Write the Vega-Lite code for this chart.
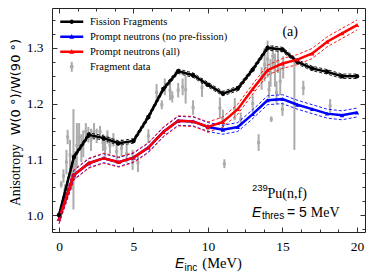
{
  "$schema": "https://vega.github.io/schema/vega-lite/v6.json",
  "width": 313,
  "height": 224,
  "autosize": "none",
  "padding": {"left": 52, "top": 8, "right": 9, "bottom": 48},
  "background": "white",
  "config": {
    "view": {"stroke": "#222", "strokeWidth": 1},
    "font": "Liberation Serif, Times New Roman, serif",
    "axis": {"labelFont": "Liberation Serif, Times New Roman, serif"},
    "legend": {"labelFont": "Liberation Serif, Times New Roman, serif"}
  },
  "datasets": {
    "curves": [
      {"s":"Fission Fragments","E":0,"A":1.000,"lo":0.996,"hi":1.004},
      {"s":"Fission Fragments","E":1,"A":1.104,"lo":1.100,"hi":1.108},
      {"s":"Fission Fragments","E":2,"A":1.144,"lo":1.140,"hi":1.148},
      {"s":"Fission Fragments","E":3,"A":1.138,"lo":1.134,"hi":1.142},
      {"s":"Fission Fragments","E":4,"A":1.129,"lo":1.125,"hi":1.133},
      {"s":"Fission Fragments","E":5,"A":1.133,"lo":1.129,"hi":1.137},
      {"s":"Fission Fragments","E":6,"A":1.176,"lo":1.172,"hi":1.180},
      {"s":"Fission Fragments","E":7,"A":1.226,"lo":1.222,"hi":1.230},
      {"s":"Fission Fragments","E":8,"A":1.258,"lo":1.254,"hi":1.262},
      {"s":"Fission Fragments","E":9,"A":1.251,"lo":1.247,"hi":1.255},
      {"s":"Fission Fragments","E":10,"A":1.234,"lo":1.230,"hi":1.238},
      {"s":"Fission Fragments","E":11,"A":1.218,"lo":1.214,"hi":1.222},
      {"s":"Fission Fragments","E":12,"A":1.227,"lo":1.223,"hi":1.231},
      {"s":"Fission Fragments","E":13,"A":1.261,"lo":1.257,"hi":1.265},
      {"s":"Fission Fragments","E":14,"A":1.300,"lo":1.296,"hi":1.304},
      {"s":"Fission Fragments","E":15,"A":1.297,"lo":1.293,"hi":1.301},
      {"s":"Fission Fragments","E":16,"A":1.275,"lo":1.271,"hi":1.279},
      {"s":"Fission Fragments","E":17,"A":1.263,"lo":1.259,"hi":1.267},
      {"s":"Fission Fragments","E":18,"A":1.257,"lo":1.253,"hi":1.261},
      {"s":"Fission Fragments","E":19,"A":1.249,"lo":1.245,"hi":1.253},
      {"s":"Fission Fragments","E":20,"A":1.249,"lo":1.245,"hi":1.253},
      {"s":"Prompt neutrons (no pre-fission)","E":0,"A":0.993,"lo":0.985,"hi":1.001},
      {"s":"Prompt neutrons (no pre-fission)","E":1,"A":1.072,"lo":1.064,"hi":1.080},
      {"s":"Prompt neutrons (no pre-fission)","E":2,"A":1.093,"lo":1.085,"hi":1.101},
      {"s":"Prompt neutrons (no pre-fission)","E":3,"A":1.102,"lo":1.094,"hi":1.110},
      {"s":"Prompt neutrons (no pre-fission)","E":4,"A":1.095,"lo":1.087,"hi":1.103},
      {"s":"Prompt neutrons (no pre-fission)","E":5,"A":1.103,"lo":1.095,"hi":1.111},
      {"s":"Prompt neutrons (no pre-fission)","E":6,"A":1.121,"lo":1.113,"hi":1.129},
      {"s":"Prompt neutrons (no pre-fission)","E":7,"A":1.149,"lo":1.141,"hi":1.157},
      {"s":"Prompt neutrons (no pre-fission)","E":8,"A":1.169,"lo":1.161,"hi":1.177},
      {"s":"Prompt neutrons (no pre-fission)","E":9,"A":1.168,"lo":1.160,"hi":1.176},
      {"s":"Prompt neutrons (no pre-fission)","E":10,"A":1.158,"lo":1.150,"hi":1.166},
      {"s":"Prompt neutrons (no pre-fission)","E":11,"A":1.153,"lo":1.145,"hi":1.161},
      {"s":"Prompt neutrons (no pre-fission)","E":12,"A":1.158,"lo":1.150,"hi":1.166},
      {"s":"Prompt neutrons (no pre-fission)","E":13,"A":1.181,"lo":1.173,"hi":1.189},
      {"s":"Prompt neutrons (no pre-fission)","E":14,"A":1.206,"lo":1.198,"hi":1.214},
      {"s":"Prompt neutrons (no pre-fission)","E":15,"A":1.208,"lo":1.200,"hi":1.216},
      {"s":"Prompt neutrons (no pre-fission)","E":16,"A":1.198,"lo":1.190,"hi":1.206},
      {"s":"Prompt neutrons (no pre-fission)","E":17,"A":1.190,"lo":1.182,"hi":1.198},
      {"s":"Prompt neutrons (no pre-fission)","E":18,"A":1.182,"lo":1.174,"hi":1.190},
      {"s":"Prompt neutrons (no pre-fission)","E":19,"A":1.179,"lo":1.171,"hi":1.187},
      {"s":"Prompt neutrons (no pre-fission)","E":20,"A":1.184,"lo":1.176,"hi":1.192},
      {"s":"Prompt neutrons (all)","E":0,"A":0.993,"lo":0.984,"hi":1.002},
      {"s":"Prompt neutrons (all)","E":1,"A":1.072,"lo":1.063,"hi":1.081},
      {"s":"Prompt neutrons (all)","E":2,"A":1.093,"lo":1.084,"hi":1.102},
      {"s":"Prompt neutrons (all)","E":3,"A":1.102,"lo":1.093,"hi":1.111},
      {"s":"Prompt neutrons (all)","E":4,"A":1.095,"lo":1.086,"hi":1.104},
      {"s":"Prompt neutrons (all)","E":5,"A":1.103,"lo":1.094,"hi":1.112},
      {"s":"Prompt neutrons (all)","E":6,"A":1.121,"lo":1.112,"hi":1.130},
      {"s":"Prompt neutrons (all)","E":7,"A":1.149,"lo":1.140,"hi":1.158},
      {"s":"Prompt neutrons (all)","E":8,"A":1.169,"lo":1.160,"hi":1.178},
      {"s":"Prompt neutrons (all)","E":9,"A":1.168,"lo":1.159,"hi":1.177},
      {"s":"Prompt neutrons (all)","E":10,"A":1.158,"lo":1.149,"hi":1.167},
      {"s":"Prompt neutrons (all)","E":11,"A":1.167,"lo":1.158,"hi":1.176},
      {"s":"Prompt neutrons (all)","E":12,"A":1.190,"lo":1.181,"hi":1.199},
      {"s":"Prompt neutrons (all)","E":13,"A":1.226,"lo":1.217,"hi":1.235},
      {"s":"Prompt neutrons (all)","E":14,"A":1.260,"lo":1.251,"hi":1.269},
      {"s":"Prompt neutrons (all)","E":15,"A":1.272,"lo":1.263,"hi":1.281},
      {"s":"Prompt neutrons (all)","E":16,"A":1.279,"lo":1.270,"hi":1.288},
      {"s":"Prompt neutrons (all)","E":17,"A":1.290,"lo":1.281,"hi":1.299},
      {"s":"Prompt neutrons (all)","E":18,"A":1.311,"lo":1.302,"hi":1.320},
      {"s":"Prompt neutrons (all)","E":19,"A":1.326,"lo":1.317,"hi":1.335},
      {"s":"Prompt neutrons (all)","E":20,"A":1.341,"lo":1.332,"hi":1.350}
    ],
    "frag": [
      {"s":"Fragment data","E":0.15,"A":1.055,"lo":1.049,"hi":1.061},
      {"s":"Fragment data","E":0.3,"A":1.07,"lo":1.058,"hi":1.082},
      {"s":"Fragment data","E":0.4,"A":1.045,"lo":1.035,"hi":1.055},
      {"s":"Fragment data","E":0.5,"A":1.095,"lo":1.073,"hi":1.117},
      {"s":"Fragment data","E":0.58,"A":1.14,"lo":1.127,"hi":1.153},
      {"s":"Fragment data","E":0.74,"A":1.108,"lo":1.081,"hi":1.135},
      {"s":"Fragment data","E":0.85,"A":1.07,"lo":1.045,"hi":1.095},
      {"s":"Fragment data","E":0.97,"A":1.10,"lo":1.01,"hi":1.19},
      {"s":"Fragment data","E":1.1,"A":1.09,"lo":1.065,"hi":1.115},
      {"s":"Fragment data","E":1.2,"A":1.125,"lo":1.085,"hi":1.165},
      {"s":"Fragment data","E":1.35,"A":1.14,"lo":1.115,"hi":1.165},
      {"s":"Fragment data","E":1.5,"A":1.12,"lo":1.095,"hi":1.145},
      {"s":"Fragment data","E":1.63,"A":1.128,"lo":1.104,"hi":1.152},
      {"s":"Fragment data","E":1.8,"A":1.15,"lo":1.135,"hi":1.165},
      {"s":"Fragment data","E":1.97,"A":1.144,"lo":1.13,"hi":1.158},
      {"s":"Fragment data","E":2.15,"A":1.135,"lo":1.115,"hi":1.155},
      {"s":"Fragment data","E":2.35,"A":1.15,"lo":1.135,"hi":1.165},
      {"s":"Fragment data","E":2.53,"A":1.142,"lo":1.129,"hi":1.155},
      {"s":"Fragment data","E":2.75,"A":1.15,"lo":1.14,"hi":1.16},
      {"s":"Fragment data","E":2.95,"A":1.13,"lo":1.115,"hi":1.145},
      {"s":"Fragment data","E":3.09,"A":1.12,"lo":1.104,"hi":1.136},
      {"s":"Fragment data","E":3.25,"A":1.14,"lo":1.128,"hi":1.152},
      {"s":"Fragment data","E":3.42,"A":1.125,"lo":1.11,"hi":1.14},
      {"s":"Fragment data","E":3.65,"A":1.135,"lo":1.123,"hi":1.147},
      {"s":"Fragment data","E":3.87,"A":1.114,"lo":1.093,"hi":1.135},
      {"s":"Fragment data","E":4.2,"A":1.12,"lo":1.104,"hi":1.136},
      {"s":"Fragment data","E":4.54,"A":1.11,"lo":1.094,"hi":1.126},
      {"s":"Fragment data","E":4.94,"A":1.099,"lo":1.081,"hi":1.117},
      {"s":"Fragment data","E":5.3,"A":1.094,"lo":1.077,"hi":1.111},
      {"s":"Fragment data","E":6.0,"A":1.142,"lo":1.13,"hi":1.154},
      {"s":"Fragment data","E":6.55,"A":1.22,"lo":1.205,"hi":1.235},
      {"s":"Fragment data","E":6.9,"A":1.198,"lo":1.19,"hi":1.206},
      {"s":"Fragment data","E":7.1,"A":1.23,"lo":1.215,"hi":1.245},
      {"s":"Fragment data","E":7.45,"A":1.224,"lo":1.206,"hi":1.242},
      {"s":"Fragment data","E":7.6,"A":1.212,"lo":1.202,"hi":1.222},
      {"s":"Fragment data","E":8.0,"A":1.224,"lo":1.211,"hi":1.237},
      {"s":"Fragment data","E":8.3,"A":1.23,"lo":1.215,"hi":1.245},
      {"s":"Fragment data","E":8.5,"A":1.225,"lo":1.2,"hi":1.25},
      {"s":"Fragment data","E":9.0,"A":1.193,"lo":1.18,"hi":1.206},
      {"s":"Fragment data","E":9.6,"A":1.229,"lo":1.212,"hi":1.246},
      {"s":"Fragment data","E":10.0,"A":1.155,"lo":1.147,"hi":1.163},
      {"s":"Fragment data","E":10.8,"A":1.192,"lo":1.173,"hi":1.211},
      {"s":"Fragment data","E":11.0,"A":1.171,"lo":1.153,"hi":1.189},
      {"s":"Fragment data","E":11.1,"A":1.092,"lo":1.084,"hi":1.1},
      {"s":"Fragment data","E":11.8,"A":1.19,"lo":1.17,"hi":1.21},
      {"s":"Fragment data","E":12.2,"A":1.172,"lo":1.16,"hi":1.184},
      {"s":"Fragment data","E":13.0,"A":1.2,"lo":1.185,"hi":1.215},
      {"s":"Fragment data","E":13.4,"A":1.13,"lo":1.115,"hi":1.145},
      {"s":"Fragment data","E":13.6,"A":1.245,"lo":1.225,"hi":1.265},
      {"s":"Fragment data","E":13.8,"A":1.27,"lo":1.24,"hi":1.3},
      {"s":"Fragment data","E":14.0,"A":1.28,"lo":1.247,"hi":1.313},
      {"s":"Fragment data","E":14.1,"A":1.225,"lo":1.21,"hi":1.24},
      {"s":"Fragment data","E":14.2,"A":1.255,"lo":1.23,"hi":1.28},
      {"s":"Fragment data","E":14.25,"A":1.172,"lo":1.167,"hi":1.177},
      {"s":"Fragment data","E":14.35,"A":1.285,"lo":1.265,"hi":1.305},
      {"s":"Fragment data","E":14.5,"A":1.26,"lo":1.23,"hi":1.29},
      {"s":"Fragment data","E":14.6,"A":1.22,"lo":1.2,"hi":1.24},
      {"s":"Fragment data","E":14.7,"A":1.275,"lo":1.255,"hi":1.295},
      {"s":"Fragment data","E":14.85,"A":1.24,"lo":1.215,"hi":1.265},
      {"s":"Fragment data","E":15.0,"A":1.19,"lo":1.178,"hi":1.202},
      {"s":"Fragment data","E":15.05,"A":1.265,"lo":1.245,"hi":1.285},
      {"s":"Fragment data","E":15.8,"A":1.2,"lo":1.117,"hi":1.283},
      {"s":"Fragment data","E":16.4,"A":1.228,"lo":1.215,"hi":1.241},
      {"s":"Fragment data","E":18.2,"A":1.196,"lo":1.184,"hi":1.208}
    ],
    "one": [{}]
  },
  "resolve": {"axis": {"x": "independent", "y": "independent"}},
  "layer": [
    {
      "data": {"name": "frag"},
      "mark": {"type": "rule", "strokeWidth": 2},
      "encoding": {
        "x": {"field": "E", "type": "quantitative",
          "scale": {"domain": [-0.47, 20.54], "nice": false, "zero": false},
          "axis": {"orient": "bottom", "values": [0,1.25,2.5,3.75,5,6.25,7.5,8.75,10,11.25,12.5,13.75,15,16.25,17.5,18.75,20],
            "labelExpr": "datum.value % 5 == 0 ? format(datum.value, 'd') : ''",
            "tickSize": {"condition": {"test": "datum.value % 5 == 0", "value": -5}, "value": -3},
            "labelPadding": 12, "labelOverlap": false, "labelBound": false, "labelFlush": false,
            "domain": false, "grid": false, "title": null,
            "labelFont": "Liberation Serif, Times New Roman, serif", "labelFontSize": 13.5, "labelColor": "black",
            "tickColor": "#333", "tickWidth": 1}},
        "y": {"field": "lo", "type": "quantitative",
          "scale": {"domain": [0.9695, 1.3716], "nice": false, "zero": false},
          "axis": {"orient": "left", "values": [0.975,1,1.025,1.05,1.075,1.1,1.125,1.15,1.175,1.2,1.225,1.25,1.275,1.3,1.325,1.35],
            "labelExpr": "abs(datum.value*10 - round(datum.value*10)) < 0.001 ? format(datum.value, '.1f') : ''",
            "tickSize": {"condition": {"test": "abs(datum.value*10 - round(datum.value*10)) < 0.001", "value": -5}, "value": -3},
            "labelPadding": 14, "labelOverlap": false, "labelBound": false, "labelFlush": false,
            "domain": false, "grid": false, "title": null,
            "labelFont": "Liberation Serif, Times New Roman, serif", "labelFontSize": 13.5, "labelColor": "black",
            "tickColor": "#333", "tickWidth": 1}},
        "y2": {"field": "hi"},
        "color": {"field": "s", "type": "nominal",
          "scale": {"domain": ["Fission Fragments", "Prompt neutrons (no pre-fission)", "Prompt neutrons (all)", "Fragment data"],
                    "range": ["#000000", "#0000ff", "#ff0000", "#ababab"]},
          "legend": {"orient": "none", "legendX": 14.5, "legendY": 8.5, "title": null, "padding": 0,
            "labelFont": "Liberation Serif, Times New Roman, serif", "labelFontSize": 10.5, "labelColor": "black",
            "symbolSize": 100, "labelOffset": 13, "rowPadding": 4,
            "encode": {"symbols": {"update": {
              "shape": {"signal": "datum.value === 'Fission Fragments' ? 'M-2.3,-0.25H2.3V0.25H-2.3ZM0.44,0A0.44,0.44 0 1,1 -0.44,0A0.44,0.44 0 1,1 0.44,0Z' : datum.value === 'Fragment data' ? 'M-2.3,-1H-2.3M2.3,1H2.3M-0.2,-1H0.2V1H-0.2ZM-0.35,-0.3H0.35V0.3H-0.35Z' : 'M-2.3,-0.25H2.3V0.25H-2.3ZM0,-0.55L0.5,0.4L-0.5,0.4Z'"},
              "fill": {"scale": "color", "field": "value"},
              "stroke": {"value": "transparent"},
              "strokeWidth": {"value": 0},
              "opacity": {"value": 1}}}}}}
      }
    },
    {
      "data": {"name": "frag"},
      "mark": {"type": "point", "shape": "square", "filled": true, "size": 9, "opacity": 1},
      "encoding": {
        "x": {"field": "E", "type": "quantitative", "scale": {"domain": [-0.47, 20.54], "nice": false, "zero": false}, "axis": null},
        "y": {"field": "A", "type": "quantitative", "scale": {"domain": [0.9695, 1.3716], "nice": false, "zero": false}, "axis": null},
        "color": {"field": "s", "type": "nominal"}
      }
    },
    {
      "data": {"name": "curves"},
      "mark": {"type": "line", "strokeWidth": 0.9, "strokeDash": [3, 2]},
      "encoding": {
        "x": {"field": "E", "type": "quantitative",
          "scale": {"domain": [-0.47, 20.54], "nice": false, "zero": false},
          "axis": {"orient": "top", "values": [0,1.25,2.5,3.75,5,6.25,7.5,8.75,10,11.25,12.5,13.75,15,16.25,17.5,18.75,20],
            "labels": false,
            "tickSize": {"condition": {"test": "datum.value % 5 == 0", "value": -5}, "value": -3},
            "domain": false, "grid": false, "title": null, "tickColor": "#333", "tickWidth": 1}},
        "y": {"field": "lo", "type": "quantitative",
          "scale": {"domain": [0.9695, 1.3716], "nice": false, "zero": false},
          "axis": {"orient": "right", "values": [0.975,1,1.025,1.05,1.075,1.1,1.125,1.15,1.175,1.2,1.225,1.25,1.275,1.3,1.325,1.35],
            "labels": false,
            "tickSize": {"condition": {"test": "abs(datum.value*10 - round(datum.value*10)) < 0.001", "value": -5}, "value": -3},
            "domain": false, "grid": false, "title": null, "tickColor": "#333", "tickWidth": 1}},
        "color": {"field": "s", "type": "nominal"}
      }
    },
    {
      "data": {"name": "curves"},
      "mark": {"type": "line", "strokeWidth": 0.9, "strokeDash": [3, 2]},
      "encoding": {
        "x": {"field": "E", "type": "quantitative", "scale": {"domain": [-0.47, 20.54], "nice": false, "zero": false}, "axis": null},
        "y": {"field": "hi", "type": "quantitative", "scale": {"domain": [0.9695, 1.3716], "nice": false, "zero": false}, "axis": null},
        "color": {"field": "s", "type": "nominal"}
      }
    },
    {
      "data": {"name": "curves"},
      "mark": {"type": "line", "strokeWidth": 2.5},
      "encoding": {
        "x": {"field": "E", "type": "quantitative", "scale": {"domain": [-0.47, 20.54], "nice": false, "zero": false}, "axis": null},
        "y": {"field": "A", "type": "quantitative", "scale": {"domain": [0.9695, 1.3716], "nice": false, "zero": false}, "axis": null},
        "color": {"field": "s", "type": "nominal"}
      }
    },
    {
      "data": {"name": "curves"},
      "mark": {"type": "point", "filled": true, "size": 20, "opacity": 1},
      "encoding": {
        "x": {"field": "E", "type": "quantitative", "scale": {"domain": [-0.47, 20.54], "nice": false, "zero": false}, "axis": null},
        "y": {"field": "A", "type": "quantitative", "scale": {"domain": [0.9695, 1.3716], "nice": false, "zero": false}, "axis": null},
        "color": {"field": "s", "type": "nominal"},
        "shape": {"field": "s", "type": "nominal",
          "scale": {"domain": ["Fission Fragments", "Prompt neutrons (no pre-fission)", "Prompt neutrons (all)"], "range": ["circle", "triangle-up", "triangle-up"]},
          "legend": null}
      }
    },
    {
      "data": {"name": "one"},
      "mark": {"type": "text", "text": "(a)", "font": "Liberation Serif, Times New Roman, serif", "fontSize": 14, "align": "center", "baseline": "middle", "color": "black"},
      "encoding": {
        "x": {"datum": 15.52, "type": "quantitative", "scale": {"domain": [-0.47, 20.54], "nice": false, "zero": false}, "axis": null},
        "y": {"datum": 1.329, "type": "quantitative", "scale": {"domain": [0.9695, 1.3716], "nice": false, "zero": false}, "axis": null}
      }
    },
    {
      "data": {"name": "one"},
      "mark": {"type": "text", "text": "239", "font": "Liberation Sans", "fontSize": 9.5, "align": "left", "baseline": "alphabetic", "color": "black"},
      "encoding": {
        "x": {"datum": 12.95, "type": "quantitative", "scale": {"domain": [-0.47, 20.54], "nice": false, "zero": false}, "axis": null},
        "y": {"datum": 1.043, "type": "quantitative", "scale": {"domain": [0.9695, 1.3716], "nice": false, "zero": false}, "axis": null}
      }
    },
    {
      "data": {"name": "one"},
      "mark": {"type": "text", "text": "Pu(n,f)", "font": "Liberation Serif, Times New Roman, serif", "fontSize": 14, "align": "left", "baseline": "alphabetic", "color": "black"},
      "encoding": {
        "x": {"datum": 14.0, "type": "quantitative", "scale": {"domain": [-0.47, 20.54], "nice": false, "zero": false}, "axis": null},
        "y": {"datum": 1.031, "type": "quantitative", "scale": {"domain": [0.9695, 1.3716], "nice": false, "zero": false}, "axis": null}
      }
    },
    {
      "data": {"name": "one"},
      "mark": {"type": "text", "text": "E", "font": "Liberation Sans", "fontStyle": "italic", "fontSize": 14, "align": "left", "baseline": "alphabetic", "color": "black"},
      "encoding": {
        "x": {"datum": 12.95, "type": "quantitative", "scale": {"domain": [-0.47, 20.54], "nice": false, "zero": false}, "axis": null},
        "y": {"datum": 0.997, "type": "quantitative", "scale": {"domain": [0.9695, 1.3716], "nice": false, "zero": false}, "axis": null}
      }
    },
    {
      "data": {"name": "one"},
      "mark": {"type": "text", "text": "thres", "font": "Liberation Sans", "fontSize": 10, "align": "left", "baseline": "alphabetic", "color": "black"},
      "encoding": {
        "x": {"datum": 13.62, "type": "quantitative", "scale": {"domain": [-0.47, 20.54], "nice": false, "zero": false}, "axis": null},
        "y": {"datum": 0.992, "type": "quantitative", "scale": {"domain": [0.9695, 1.3716], "nice": false, "zero": false}, "axis": null}
      }
    },
    {
      "data": {"name": "one"},
      "mark": {"type": "text", "text": "= 5", "font": "Liberation Sans", "fontSize": 14, "align": "left", "baseline": "alphabetic", "color": "black"},
      "encoding": {
        "x": {"datum": 15.3, "type": "quantitative", "scale": {"domain": [-0.47, 20.54], "nice": false, "zero": false}, "axis": null},
        "y": {"datum": 0.997, "type": "quantitative", "scale": {"domain": [0.9695, 1.3716], "nice": false, "zero": false}, "axis": null}
      }
    },
    {
      "data": {"name": "one"},
      "mark": {"type": "text", "text": "MeV", "font": "Liberation Serif, Times New Roman, serif", "fontSize": 14, "align": "left", "baseline": "alphabetic", "color": "black"},
      "encoding": {
        "x": {"datum": 16.9, "type": "quantitative", "scale": {"domain": [-0.47, 20.54], "nice": false, "zero": false}, "axis": null},
        "y": {"datum": 0.997, "type": "quantitative", "scale": {"domain": [0.9695, 1.3716], "nice": false, "zero": false}, "axis": null}
      }
    },
    {
      "data": {"name": "one"},
      "mark": {"type": "text", "text": "E", "font": "Liberation Sans", "fontStyle": "italic", "fontSize": 14, "align": "left", "baseline": "alphabetic", "color": "black"},
      "encoding": {
        "x": {"datum": 7.78, "type": "quantitative", "scale": {"domain": [-0.47, 20.54], "nice": false, "zero": false}, "axis": null},
        "y": {"datum": 0.9043, "type": "quantitative", "scale": {"domain": [0.9695, 1.3716], "nice": false, "zero": false}, "axis": null}
      }
    },
    {
      "data": {"name": "one"},
      "mark": {"type": "text", "text": "inc", "font": "Liberation Sans", "fontSize": 10, "align": "left", "baseline": "alphabetic", "color": "black"},
      "encoding": {
        "x": {"datum": 8.42, "type": "quantitative", "scale": {"domain": [-0.47, 20.54], "nice": false, "zero": false}, "axis": null},
        "y": {"datum": 0.8995, "type": "quantitative", "scale": {"domain": [0.9695, 1.3716], "nice": false, "zero": false}, "axis": null}
      }
    },
    {
      "data": {"name": "one"},
      "mark": {"type": "text", "text": "(MeV)", "font": "Liberation Serif, Times New Roman, serif", "fontSize": 14.5, "align": "left", "baseline": "alphabetic", "color": "black"},
      "encoding": {
        "x": {"datum": 9.62, "type": "quantitative", "scale": {"domain": [-0.47, 20.54], "nice": false, "zero": false}, "axis": null},
        "y": {"datum": 0.9043, "type": "quantitative", "scale": {"domain": [0.9695, 1.3716], "nice": false, "zero": false}, "axis": null}
      }
    },
    {
      "data": {"name": "one"},
      "mark": {"type": "text", "text": "Anisotropy", "font": "Liberation Serif, Times New Roman, serif", "fontSize": 13.8, "align": "left", "baseline": "alphabetic", "angle": 270, "color": "black"},
      "encoding": {
        "x": {"datum": -2.6, "type": "quantitative", "scale": {"domain": [-0.47, 20.54], "nice": false, "zero": false}, "axis": null},
        "y": {"datum": 1.016, "type": "quantitative", "scale": {"domain": [0.9695, 1.3716], "nice": false, "zero": false}, "axis": null}
      }
    },
    {
      "data": {"name": "one"},
      "mark": {"type": "text", "text": "W(0 °)/W(90 °)", "font": "DejaVu Sans", "fontSize": 13, "align": "left", "baseline": "alphabetic", "angle": 270, "color": "black"},
      "encoding": {
        "x": {"datum": -2.6, "type": "quantitative", "scale": {"domain": [-0.47, 20.54], "nice": false, "zero": false}, "axis": null},
        "y": {"datum": 1.143, "type": "quantitative", "scale": {"domain": [0.9695, 1.3716], "nice": false, "zero": false}, "axis": null}
      }
    }
  ]
}
